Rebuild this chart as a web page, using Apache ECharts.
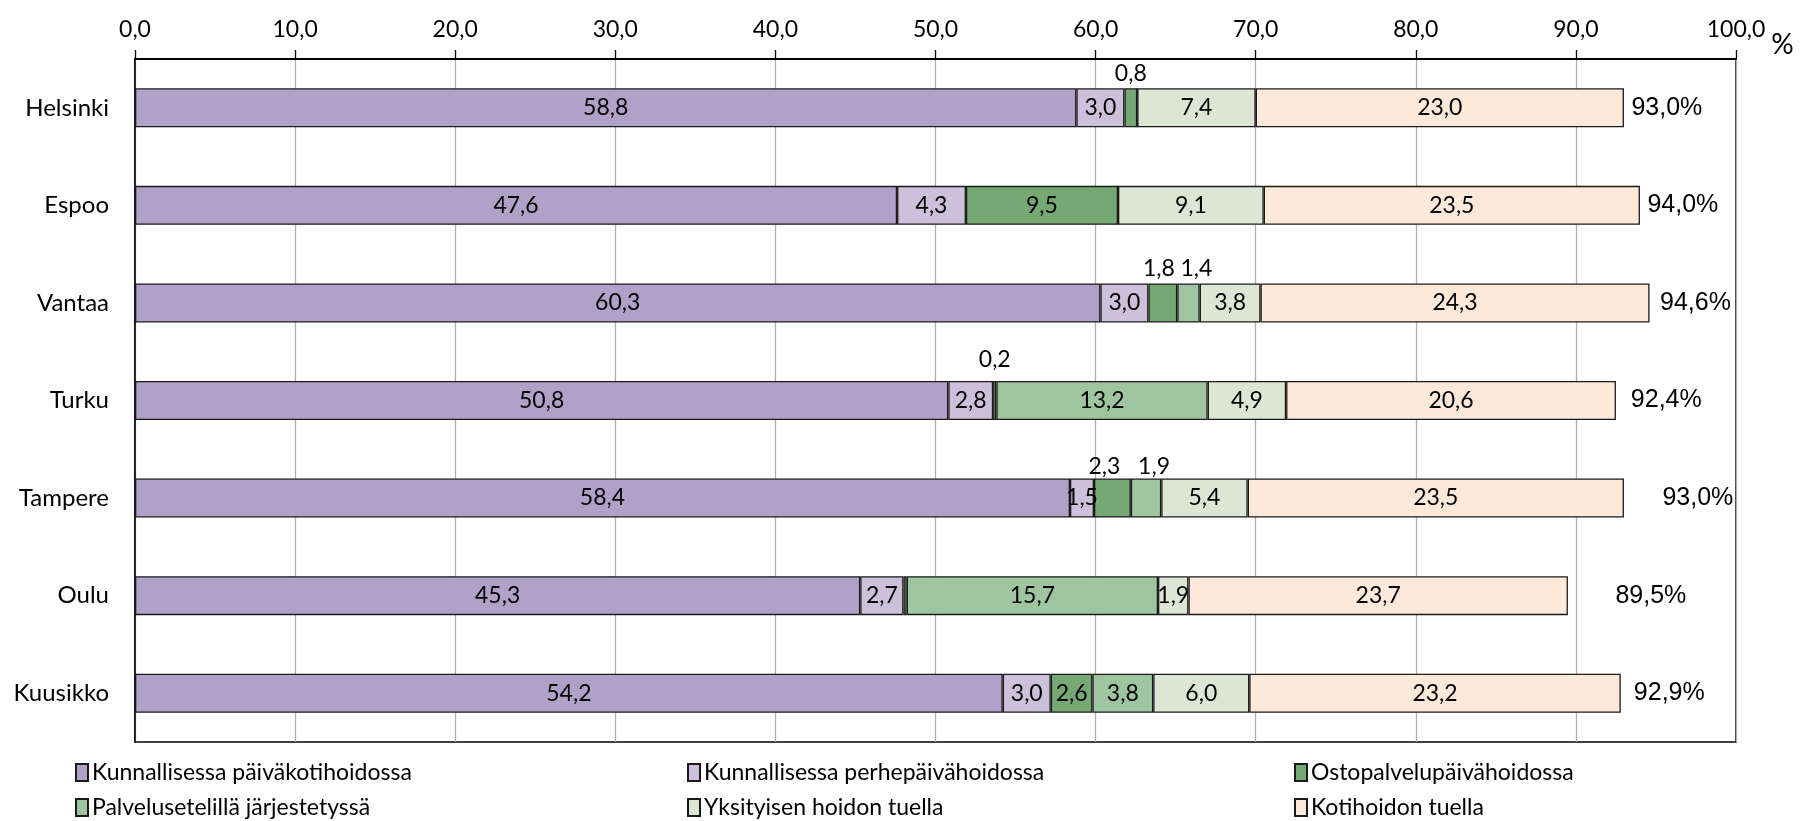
<!DOCTYPE html>
<html>
<head>
<meta charset="utf-8">
<script src="https://cdn.jsdelivr.net/npm/echarts@6/dist/echarts.min.js"></script>
<style>
html,body{margin:0;padding:0;background:#fff;}
#chart{width:1804px;height:821px;}
</style>
</head>
<body>
<div id="chart"></div>
<script>
// ---- data ----
const categories = ['Helsinki', 'Espoo', 'Vantaa', 'Turku', 'Tampere', 'Oulu', 'Kuusikko'];
const seriesNames = ['Kunnallisessa päiväkotihoidossa', 'Kunnallisessa perhepäivähoidossa', 'Ostopalvelupäivähoidossa', 'Palvelusetelillä järjestetyssä', 'Yksityisen hoidon tuella', 'Kotihoidon tuella'];
const kunnPaivakoti = [58.8, 47.6, 60.3, 50.8, 58.4, 45.3, 54.2];
const kunnPerhe     = [3.0, 4.3, 3.0, 2.8, 1.5, 2.7, 3.0];
const ostopalvelu   = [0.8, 9.5, 1.8, 0.2, 2.3, 0.2, 2.6];
const palveluseteli = [0, 0, 1.4, 13.2, 1.9, 15.7, 3.8];
const yksityinen    = [7.4, 9.1, 3.8, 4.9, 5.4, 1.9, 6.0];
const kotihoito     = [23.0, 23.5, 24.3, 20.6, 23.5, 23.7, 23.2];
const totals        = [93.0, 94.0, 94.6, 92.4, 93.0, 89.5, 92.9];
const xTicks = [0, 10, 20, 30, 40, 50, 60, 70, 80, 90, 100];

// ---- styles ----
const colors = ['#b1a0c7', '#ccc0da', '#76a874', '#9fc4a0', '#dde5d5', '#fde9d9'];
const valueSets = [kunnPaivakoti, kunnPerhe, ostopalvelu, palveluseteli, yksityinen, kotihoito];
// labels drawn above the bar: series index -> {category index: [dx, distance]}
const aboveLabels = {
  2: {0: [0, 3], 2: [-4, 3], 3: [0, 10], 4: [-8, 0]},
  3: {2: [8, 3], 4: [8, 0]}
};
const hiddenLabels = {2: [5]};
const totalOffsets = [7, 7, 10, 16, 38, 47, 11];
const FONT = 'Lato, "Noto Sans", sans-serif';
const fmt = v => Number(v).toFixed(1).replace('.', ',');

const chart = echarts.init(document.getElementById('chart'), null, {renderer: 'canvas'});

const series = valueSets.map((vals, si) => ({
  name: seriesNames[si],
  type: 'bar',
  stack: 'total',
  barWidth: 39,
  itemStyle: {color: colors[si], borderColor: '#1a1a1a', borderWidth: 1.3},
  label: {show: true, position: 'inside', color: '#000', fontFamily: FONT, fontSize: 23, formatter: p => fmt(p.value)},
  emphasis: {disabled: true},
  data: vals.map((v, ci) => {
    const item = {value: v};
    const above = (aboveLabels[si] || {})[ci];
    if (v === 0 || (hiddenLabels[si] || []).includes(ci)) item.label = {show: false};
    else if (above) item.label = {show: true, position: 'top', distance: above[1], offset: [above[0], 0]};
    return item;
  })
}));

series.push({
  name: 'Yhteensä',
  type: 'scatter',
  symbolSize: 1,
  itemStyle: {color: 'rgba(0,0,0,0)'},
  silent: true,
  emphasis: {disabled: true},
  label: {show: true, position: 'right', color: '#000', opacity: 1, fontFamily: '"Liberation Sans", Arial, sans-serif', fontSize: 25, formatter: p => fmt(p.value[0]) + '%'},
  data: totals.map((t, i) => ({value: [t, categories[i]], label: {distance: totalOffsets[i]}}))
});

const legendPos = [[75, 761], [687, 761], [1294, 761], [75, 796], [687, 796], [1294, 796]];
const legends = seriesNames.map((n, i) => ({
  data: [n],
  left: legendPos[i][0],
  top: legendPos[i][1],
  padding: 0,
  itemWidth: 12,
  itemHeight: 17,
  itemGap: 6,
  icon: 'rect',
  selectedMode: false,
  textStyle: {color: '#000', fontFamily: FONT, fontSize: 23, padding: [0, 0, 0, -1]}
}));

chart.setOption({
  animation: false,
  backgroundColor: '#fff',
  grid: {left: 135, right: 68, top: 59, bottom: 79, show: true, borderColor: '#000', borderWidth: 1.5, containLabel: false},
  legend: legends,
  xAxis: {
    type: 'value',
    position: 'top',
    min: xTicks[0],
    max: xTicks[xTicks.length - 1],
    interval: 10,
    name: '%',
    nameLocation: 'end',
    nameGap: 8,
    nameTextStyle: {color: '#000', fontFamily: FONT, fontSize: 28, verticalAlign: 'bottom', padding: [0, 0, 0, 0]},
    axisLine: {show: true, lineStyle: {color: '#000', width: 2}},
    axisTick: {show: true, inside: false, length: 9, lineStyle: {color: '#000', width: 1.3}},
    axisLabel: {color: '#000', fontFamily: FONT, fontSize: 23, margin: 18, formatter: v => fmt(v)},
    splitLine: {show: true, lineStyle: {color: '#b0b0b0', width: 1.3}}
  },
  yAxis: {
    type: 'category',
    inverse: true,
    data: categories,
    axisLine: {show: true, lineStyle: {color: '#000', width: 1.5}},
    axisTick: {show: false},
    axisLabel: {color: '#000', fontFamily: FONT, fontSize: 24, margin: 26}
  },
  series: series
});
</script>
</body>
</html>
